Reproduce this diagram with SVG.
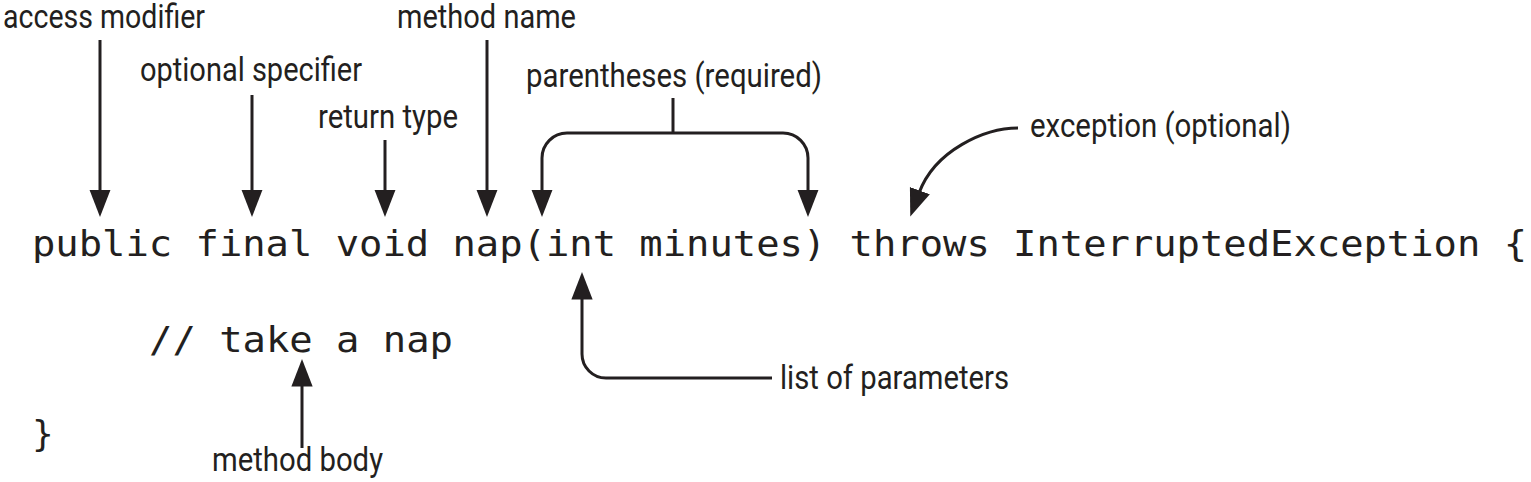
<svg xmlns="http://www.w3.org/2000/svg" width="1531" height="482" viewBox="0 0 1531 482">
<style>
.lbl{font-family:Roboto,"Liberation Sans",sans-serif;font-size:33px;fill:#231f20}
.code{font-family:"DejaVu Sans Mono","Liberation Mono",monospace;font-size:36px;fill:#231f20}
.arr{fill:none;stroke:#231f20;stroke-width:3;marker-end:url(#ah)}
.ln{fill:none;stroke:#231f20;stroke-width:3}
</style>
<defs>
<marker id="ah" markerUnits="userSpaceOnUse" markerWidth="30" markerHeight="30" viewBox="0 -10 24 20" refX="2" refY="0" orient="auto">
<path d="M0,-8.5 L22,0 L0,8.5 z" fill="#231f20"/>
</marker>
</defs>
<rect width="1531" height="482" fill="#fff"/>
<g id="code">
<text class="code" x="32" y="256" textLength="1495" lengthAdjust="spacingAndGlyphs">public final void nap(int minutes) throws InterruptedException {</text>
<text class="code" x="149" y="352" textLength="304" lengthAdjust="spacingAndGlyphs">// take a nap</text>
<text class="code" x="32" y="446">}</text>
</g>
<g id="access-modifier"><text class="lbl" x="3" y="28" textLength="202" lengthAdjust="spacingAndGlyphs">access modifier</text></g>
<g id="optional-specifier"><text class="lbl" x="140" y="81" textLength="222" lengthAdjust="spacingAndGlyphs">optional specifier</text></g>
<g id="return-type"><text class="lbl" x="318" y="128" textLength="140" lengthAdjust="spacingAndGlyphs">return type</text></g>
<g id="method-name"><text class="lbl" x="397" y="28" textLength="179" lengthAdjust="spacingAndGlyphs">method name</text></g>
<g id="parentheses"><text class="lbl" x="526" y="87" textLength="296" lengthAdjust="spacingAndGlyphs">parentheses (required)</text></g>
<g id="exception"><text class="lbl" x="1030" y="137" textLength="261" lengthAdjust="spacingAndGlyphs">exception (optional)</text></g>
<g id="list-of-parameters"><text class="lbl" x="780" y="389" textLength="229" lengthAdjust="spacingAndGlyphs">list of parameters</text></g>
<g id="method-body"><text class="lbl" x="212" y="471" textLength="171" lengthAdjust="spacingAndGlyphs">method body</text></g>
<g id="connectors">
<path class="arr" d="M100,40 V192"/>
<path class="arr" d="M252,95 V192"/>
<path class="arr" d="M385,140 V192"/>
<path class="arr" d="M487,40 V192"/>
<path class="ln" d="M673,98 V133"/>
<path class="arr" d="M673,133 H567 A25,25 0 0 0 542,158 V192"/>
<path class="arr" d="M673,133 H783 A25,25 0 0 1 808,158 V192"/>
<path class="arr" d="M1018,128 C985,128 935,150 919,193"/>
<path class="arr" d="M772,378 H606 A24,24 0 0 1 582,354 V297"/>
<path class="arr" d="M302,448 V384"/>
</g>
</svg>
